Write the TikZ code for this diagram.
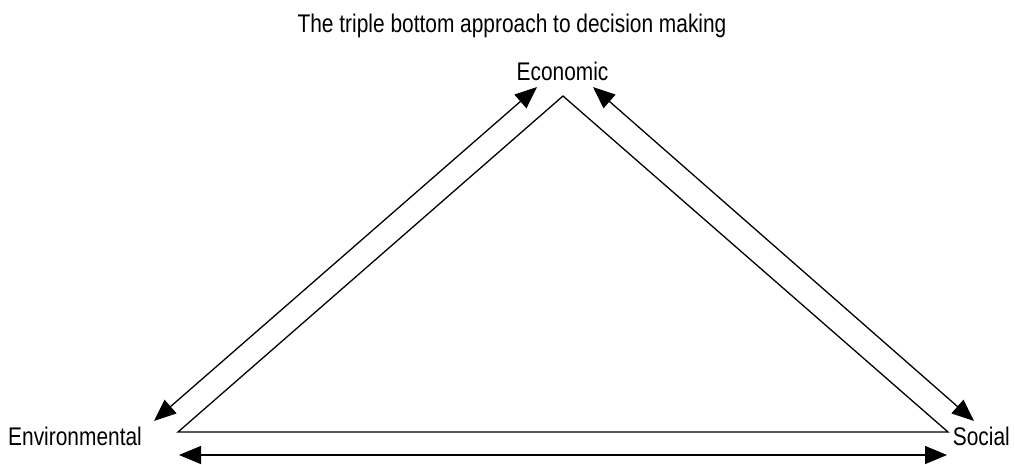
\documentclass[tikz,border=0pt]{standalone}
\usepackage{fontspec}
\setmainfont{Liberation Sans}[FakeStretch=0.82]
\usetikzlibrary{arrows.meta}
\begin{document}
\begin{tikzpicture}[x=1pt,y=-1pt,
  lbl/.style={anchor=base,inner sep=0pt,font=\fontsize{25.5}{30}\selectfont},
  side/.style={line width=1.3pt,line join=miter},
  arr/.style={line width=1.3pt,{Triangle[length=22pt,width=18pt]}-{Triangle[length=22pt,width=18pt]}}]
\useasboundingbox (0,0) rectangle (1015,464);
\node[lbl] (title) at (512,32) {The triple bottom approach to decision making};
\node[lbl] (eco) at (562.5,80) {Economic};
\node[lbl,anchor=base west] (env) at (8,445) {Environmental};
\node[lbl,anchor=base east] (soc) at (1010,445) {Social};
\coordinate (A) at (563,96);
\coordinate (B) at (178,432);
\coordinate (C) at (948,432);
\draw[side] (A) -- (B) -- (C) -- cycle;
\coordinate (l1) at (537,87);
\coordinate (l2) at (154,421);
\coordinate (r1) at (593,87);
\coordinate (r2) at (974,421);
\coordinate (b1) at (179,455);
\coordinate (b2) at (947,455);
\draw[arr] (l1) -- (l2);
\draw[arr] (r1) -- (r2);
\draw[arr] (b1) -- (b2);
\end{tikzpicture}
\end{document}
